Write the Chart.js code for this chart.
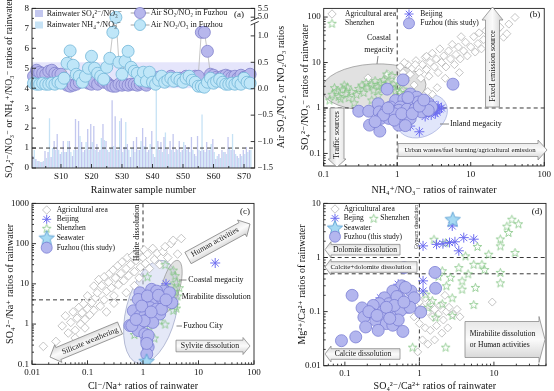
<!DOCTYPE html>
<html>
<head>
<meta charset="utf-8">
<script src="https://cdn.jsdelivr.net/npm/chart.js@4.4.1/dist/chart.umd.min.js"></script>
<style>
  html, body { margin: 0; padding: 0; background: #fff; }
  body { position: relative; width: 554px; height: 391px; overflow: hidden; }
  canvas { position: absolute; }
</style>
</head>
<body>
<canvas id="ca" width="290" height="195" style="left:0;top:0"></canvas>
<canvas id="cb" width="277" height="195" style="left:277px;top:0"></canvas>
<canvas id="cc" width="277" height="196" style="left:0;top:195px"></canvas>
<canvas id="cd" width="277" height="196" style="left:277px;top:195px"></canvas>
<script>
// ---- (a) rainwater ratios per sample + air ratios ----
const sampleIds = [1,2,3,4,5,6,7,8,9,10,11,12,13,14,15,16,17,18,19,20,21,22,23,24,25,26,27,28,29,30,
  31,32,33,34,35,36,37,38,39,40,41,42,43,44,45,46,47,48,49,50,51,52,53,54,55,56,57,58,59,60,
  61,62,63,64,65,66,67,68,69,70,71,72];
const so4no3 = [0.6,0.45,0.35,0.3,0.85,0.8,0.55,1.35,1.7,0.7, 1.35,0.8,1.35,0.6,2.45,2.35,1.3,0.9,1.95,2.2,
  2.1,1.2,0.9,2.2,1.35,0.8,3.4,2.6,0.9,2.5, 1.05,1.2,0.55,1.35,1.55,0.9,2.0,1.55,0.9,1.85,
  0.55,1.35,1.3,1.55,0.95,1.35,1.7,0.95,1.35,0.9, 1.15,1.05,1.55,0.7,1.6,0.85,0.9,1.3,0.9,1.45,
  0.45,0.7,0.9,0.8,1.55,0.9,0.9,0.6,0.7,0.9, 1.05,0.9];
const nh4no3 = [0.9,0.35,0.3,0.35,0.5,2.5,1.0,0.9,0.9,0.8, 0.8,1.35,0.8,0.9,0.9,1.6,0.8,1.3,0.9,1.3,
  0.9,0.8,1.5,1.4,0.9,1.0,1.1,0.9,2.35,0.8, 2.3,0.9,1.0,0.8,0.9,1.35,1.1,0.8,1.2,0.7,
  4.1,0.9,0.8,1.78,0.7,0.9,0.8,0.9,0.8,1.3, 0.9,0.8,0.9,0.6,0.9,2.68,0.8,0.9,1.2,0.8,
  0.6,0.5,0.8,0.7,1.0,1.7,0.7,0.5,0.6,0.7, 0.8,0.9];
// air ratios, read against the left axis
const airSo2No2 = [4.6,4.9,4.8,4.75,4.7,4.85,4.9,4.75,4.7,4.7, 4.5,4.15,4.1,4.15,4.2,4.3,4.55,4.4,4.25,4.2,
  4.3,4.2,4.4,4.3,4.3,4.15,4.1,4.1,4.2,4.15, 4.2,4.15,4.2,4.2,4.15,4.2,4.25,4.15,4.3,4.4,
  4.5,4.55,4.5,4.45,4.5,4.6,4.45,4.4,4.5,4.45, 4.6,4.55,4.5,4.6,4.6,6.8,6.8,5.85,4.7,4.65,
  4.55,4.5,4.6,4.65,4.6,4.55,4.6,4.5,4.65,4.55, 4.6,4.7];
const airNo2O3 = [4.25,4.2,4.2,4.25,4.2,4.2,4.25,4.2,4.3,4.25, 4.5,5.25,5.87,5.15,4.7,4.6,4.3,4.6,5.0,5.6,
  5.0,4.75,4.6,4.45,5.05,5.5,6.8,7.55,5.3,4.7, 5.35,5.85,5.05,4.85,4.75,4.4,4.8,4.35,4.8,4.3,
  4.2,4.4,4.6,4.3,4.4,4.5,4.35,4.5,4.4,4.3, 4.5,4.6,4.4,4.3,4.1,4.1,4.05,4.3,4.5,4.25,
  4.35,4.45,4.3,4.2,4.2,4.25,4.2,4.3,4.2,4.5, 4.3,4.25];
const aXTicks = [5,10,15,20,25,30,35,40,45,50,55,60,65,70];
const aYTicks = [0,0.5,1,1.5,2,2.5,3,3.5,4,4.5,5,5.5,6,6.5,7,7.5,8];
const aRightTicks = [-1.5,-1,-0.5,0,0.5,1.0,1.354,1.52];
const aRightLabels = ['−1.5','−1.0','−0.5','0.0','0.5','1.0','5.0','5.5'];

// ---- (b) SO4/NO3 vs NH4/NO3 ----
const bAgri = [[0.4,4.6],[0.98,4.0],[0.75,5.5],[1.1,8],[1.2,6],[1.3,4],[1.4,9],[1.5,5.5],[1.6,7.5],[1.7,3.2],
  [1.8,11],[2.0,6],[2.1,4.5],[2.2,9],[2.4,13],[2.5,7],[2.7,5],[2.8,10],[3.0,16],[3.2,8],[3.4,12],[3.6,6],
  [3.8,20],[4.0,10],[4.3,14],[4.6,8],[5.0,18],[5.3,12],[5.6,25],[6.0,9],[6.3,15],[6.8,22],[7.2,12],[7.4,37],
  [8.0,18],[8.5,28],[9.0,14],[10,22],[11,37],[11.5,17],[12.5,26],[13,45],[14,20],[15,32],[16,50],[18,25],
  [19,31],[20,42],[23,52],[25,60],[28,36],[31,43],[33,70],[40,98],[1.25,10],[1.76,9],[2.5,13.7],
  [2.2,1.5],[3.0,2.0],[3.5,2.8],[2.6,2.3],[4.5,4.5],[7,6],[1.1,2.4]];
const bShenzhen = [[0.13,2.0],[0.15,2.4],[0.16,1.8],[0.18,2.6],[0.2,2.1],[0.21,2.9],[0.22,1.7],[0.24,2.3],
  [0.19,3.2],[0.14,2.8],[0.17,1.6],[0.28,2.0],[0.3,2.7],[0.33,3.2],[0.35,2.2],[0.38,3.6],[0.4,2.9],[0.45,3.3],
  [0.48,2.5],[0.5,4.0],[0.55,3.0],[0.6,3.5],[0.62,2.6],[0.65,4.2],[0.7,3.1],[0.75,3.7],[0.8,2.8],[0.85,5.2],
  [0.9,3.4],[0.95,2.4],[1.0,3.0],[1.1,2.2],[1.2,2.6],[1.3,1.9],[1.5,1.7],[1.7,2.1],[0.26,1.3],[0.55,1.9],
  [0.45,1.5],[0.72,5.6],[0.12,1.5]];
const bBeijing = [[2.8,0.85],[3.0,0.95],[3.2,1.05],[3.4,0.9],[3.6,1.1],[3.3,0.75],[3.8,0.95],[2.6,1.0],
  [3.1,1.2],[3.5,0.82],[2.9,0.7],[4.0,1.0],[2.4,0.65],[1.5,0.4],[2.0,0.3],[1.3,0.55]];
const bFuzhou = [[1.2,4.15],[5.73,3.34],[0.73,2.6],[1.51,2.03],[1.84,1.73],[0.55,1.24],[0.95,1.46],[1.23,1.54],
  [1.43,1.35],[1.67,1.24],[1.94,1.35],[2.67,1.24],[2.93,1.05],[0.81,1.05],[1.1,1.05],[0.3,0.85],[0.41,0.85],
  [0.57,0.82],[0.7,0.85],[0.85,0.85],[1.05,0.89],[1.36,0.94],[1.75,0.94],[2.15,0.82],[2.64,0.89],[0.6,0.59],
  [0.77,0.59],[0.99,0.59],[1.23,0.64],[1.5,0.59],[0.42,0.42],[1.05,0.42],[1.29,0.41],[0.58,0.31],[0.9,0.75],
  [0.91,0.54],[0.65,0.7],[1.15,0.75],[1.6,0.75],[2.0,1.1],[0.5,0.5],[1.4,1.7],[2.3,1.5],[0.75,1.0]];

// ---- (c) SO4/Na vs Cl/Na ----
const cAgri = [[0.016,0.28],[0.027,0.37],[0.035,0.9],[0.04,1.6],[0.045,0.6],[0.05,1.1],[0.055,2.0],[0.06,0.7],
  [0.065,1.4],[0.07,2.6],[0.075,1.0],[0.08,1.9],[0.085,3.2],[0.09,1.3],[0.1,2.4],[0.1,5],[0.11,1.7],[0.12,3.4],
  [0.13,8.8],[0.13,2.2],[0.14,4.5],[0.15,6],[0.16,12.8],[0.17,2.8],[0.18,9],[0.2,4],[0.2,15],[0.22,6.5],
  [0.24,11],[0.25,18],[0.27,8],[0.29,22],[0.3,5],[0.32,14],[0.35,28],[0.36,9.5],[0.4,18],[0.42,35],[0.45,12],
  [0.5,24],[0.52,45],[0.55,16],[0.6,30],[0.65,50],[0.7,20],[0.75,38],[0.8,60],[0.85,14],[0.9,26],[1.0,45],
  [1.05,70],[1.1,32],[1.2,55],[1.3,24],[1.5,76],[1.6,40],[1.8,57],[2.0,30],[2.3,63],[2.5,84],[2.8,45],
  [3.2,100],[3.5,121],[4.2,55],[4.9,134],[0.06,0.45],[0.09,0.8],[0.22,2.0],[0.5,6],[0.7,9],[0.3,3.3]];
const cBeijing = [[20,33],[2.6,10]];
const cShenzhen = [[1.2,15],[2.5,30],[3.5,22],[3.8,16],[4.0,11],[3.2,9],[3.6,6.5],[4.2,5],[3.8,3],[4.0,2.5],
  [3.5,2.2],[2.5,1.0],[2.0,1.2],[1.3,0.9],[0.7,0.55],[1.6,0.45],[4.5,8],[1.1,0.18],[2.2,2.8]];
const cSeawater = [[1.16,0.12]];
const cFuzhou = [[0.88,6.0],[1.43,7.3],[2.33,6.6],[1.01,3.77],[1.65,3.77],[2.15,4.5],[1.33,2.57],[1.76,2.35],
  [3.3,3.4],[0.67,2.14],[0.88,1.61],[1.08,1.61],[1.33,1.47],[2.0,1.78],[0.58,0.92],[0.88,1.01],[1.24,1.22],
  [0.82,0.69],[1.08,0.57],[1.17,0.39],[1.24,0.27],[1.17,0.18],[1.76,6.6],[3.0,6.0],[0.82,4.1],[2.15,2.35],
  [0.63,0.92],[1.24,0.52],[1.17,0.33],[1.2,5.0],[1.9,5.2],[0.95,2.8],[1.5,1.1],[1.05,1.2],[2.6,4.0],
  [0.75,1.3],[1.4,2.0]];

// ---- (d) Mg/Ca vs SO4/Ca ----
const dAgri = [[0.9,0.22],[1.0,0.15],[1.1,0.12],[1.2,0.18],[1.3,0.1],[1.4,0.14],[1.5,0.08],[1.6,0.11],[1.8,0.09],
  [1.9,0.13],[2.1,0.07],[2.3,0.1],[2.5,0.12],[2.8,0.09],[3.2,0.11],[1.0,0.06],[1.2,0.05],[1.4,0.045],[1.7,0.055],
  [2.0,0.04],[2.4,0.05],[1.1,0.03],[1.3,0.025],[0.95,0.018],[1.6,0.03],[0.85,0.08],[0.8,0.12],[9.5,0.15],
  [3.5,0.08],[2.2,0.2]];
const dBeijing = [[1.12,1.64],[2.07,1.8],[2.54,1.89],[2.76,3.83],[3.38,1.33],[3.94,2.33],[5.36,2.18],[1.7,1.75],
  [3.0,1.95],[1.12,0.37],[1.12,0.24],[0.52,0.32],[0.3,0.18]];
const dShenzhen = [[17.4,5.1],[21.3,4.2],[14.9,3.8],[15.7,2.9],[12.2,2.2],[12.2,1.64],[19.2,1.24],[5.36,0.75],
  [6.9,0.75],[4.16,1.07],[3.38,0.65],[12.2,0.53],[12.2,0.34],[1.57,2.18],[2.25,1.89],[2.03,0.57],[2.62,0.43],
  [3.74,0.37],[1.22,0.21],[1.49,0.16],[2.03,0.14],[2.76,0.18],[5.36,0.135],[1.65,0.079],[2.76,0.085],
  [0.81,0.022],[2.25,0.022],[3.74,0.26],[5.65,0.28],[8.5,1.15],[6.0,1.6],[7.5,0.6],[2.3,0.3],[1.8,0.45],
  [1.3,0.12],[4.5,0.5]];
const dSeawater = [[2.8,5.1]];
const dFuzhou = [[0.625,0.65],[1.62,0.53],[1.65,0.27],[0.125,0.2],[0.58,0.3],[0.77,0.24],[0.85,0.18],[0.44,0.24],
  [0.34,0.18],[0.54,0.18],[0.69,0.12],[0.39,0.14],[0.29,0.14],[0.24,0.13],[0.17,0.117],[0.23,0.091],[0.32,0.098],
  [0.42,0.098],[0.48,0.079],[0.56,0.105],[1.04,0.098],[0.18,0.079],[0.26,0.069],[0.36,0.06],[0.44,0.056],
  [0.28,0.045],[0.19,0.052],[0.14,0.034],[0.09,0.029],[0.6,0.043],[0.5,0.19],[0.65,0.28],[0.46,0.13],
  [0.36,0.12],[0.21,0.1],[0.27,0.085],[0.75,0.12],[0.52,0.07],[0.62,0.15],[0.4,0.075]];

// ---- style ----
const SERIF = '"Liberation Serif", "DejaVu Serif", serif';
Chart.defaults.font.family = SERIF;
Chart.defaults.color = '#111';
const FZ_FILL = '#b3b6ee', FZ_EDGE = '#7b7fd4';
const AGRI_C = '#b5b5b5', BJ_C = '#6d6df0';

function starPath(g, cx, cy, R, r) {
  g.beginPath();
  for (let i = 0; i < 10; i++) {
    const a = -Math.PI / 2 + i * Math.PI / 5, rr = i % 2 ? r : R;
    g.lineTo(cx + rr * Math.cos(a), cy + rr * Math.sin(a));
  }
  g.closePath();
}
function starImg(R, r, fill, stroke, lw) {
  const s = Math.ceil(2 * R + 2 * lw + 2);
  const cv = document.createElement('canvas');
  cv.width = s; cv.height = s;
  const g = cv.getContext('2d');
  starPath(g, s / 2, s / 2 + R * 0.1, R, r);
  if (fill) { g.fillStyle = fill; g.fill(); }
  g.strokeStyle = stroke; g.lineWidth = lw; g.stroke();
  return cv;
}
const szImg = starImg(4.5, 1.9, null, '#84c584', 0.8);
const seaImg = starImg(8, 3.6, '#a6daf3', '#5b9fd2', 0.9);

const pts = arr => arr.map(([x, y]) => ({ x, y }));
const fmt = v => String(+v.toPrecision(1));

function logTicks(min, max) {
  const t = [];
  for (let e = Math.floor(Math.log10(min)); e <= Math.ceil(Math.log10(max)); e++) {
    for (let m = 1; m < 10; m++) {
      const v = +(m * Math.pow(10, e)).toPrecision(2);
      if (v >= min * 0.999 && v <= max * 1.001) t.push({ value: v, major: m === 1 });
    }
  }
  return t;
}
function logAxis(pos, min, max, size, title, tpad) {
  const left = pos === 'left';
  return {
    type: 'logarithmic', position: pos, min, max,
    grid: { display: false, drawTicks: false }, border: { display: false },
    afterBuildTicks: s => { s.ticks = logTicks(min, max); },
    afterFit: s => { if (left) s.width = size; else s.height = size; },
    ticks: { autoSkip: false, maxRotation: 0, padding: 3, font: { size: 9 },
      callback: (v, i, t) => (t[i] && t[i].major ? fmt(v) : '') },
    title: { display: true, text: title, font: { size: 10, lineHeight: left ? 1.2 : 1 },
      padding: left ? { top: tpad, bottom: 0 } : { top: 0, bottom: 0 } }
  };
}

// ---- drawing helpers ----
function txt(ctx, s, x, y, o = {}) {
  ctx.save();
  ctx.font = (o.size || 8) + 'px ' + SERIF;
  ctx.fillStyle = o.color || '#111';
  ctx.textAlign = o.align || 'left';
  ctx.textBaseline = 'middle';
  ctx.translate(x, y);
  if (o.rot) ctx.rotate(o.rot * Math.PI / 180);
  ctx.fillText(s, 0, 0);
  ctx.restore();
}
function line(ctx, x1, y1, x2, y2, color, dashed) {
  ctx.save();
  ctx.strokeStyle = color || '#222';
  ctx.lineWidth = 0.9;
  if (dashed) ctx.setLineDash([4, 3]);
  ctx.beginPath(); ctx.moveTo(x1, y1); ctx.lineTo(x2, y2); ctx.stroke();
  ctx.restore();
}
function ellipse(ctx, cx, cy, rx, ry, rot, fill, stroke) {
  ctx.save();
  ctx.beginPath();
  ctx.ellipse(cx, cy, rx, ry, rot * Math.PI / 180, 0, Math.PI * 2);
  ctx.fillStyle = fill; ctx.fill();
  ctx.strokeStyle = stroke; ctx.lineWidth = 0.8; ctx.stroke();
  ctx.restore();
}
// block arrow: tail (x1,y1) -> tip (x2,y2)
function arrow(ctx, x1, y1, x2, y2, hw, hh, hl) {
  const ang = Math.atan2(y2 - y1, x2 - x1), len = Math.hypot(x2 - x1, y2 - y1);
  ctx.save();
  ctx.translate(x1, y1); ctx.rotate(ang);
  ctx.beginPath();
  ctx.moveTo(0, -hw); ctx.lineTo(len - hl, -hw); ctx.lineTo(len - hl, -hh); ctx.lineTo(len, 0);
  ctx.lineTo(len - hl, hh); ctx.lineTo(len - hl, hw); ctx.lineTo(0, hw); ctx.closePath();
  const g = ctx.createLinearGradient(0, -hh, 0, hh);
  g.addColorStop(0, '#e2e2e2'); g.addColorStop(0.5, '#fbfbfb'); g.addColorStop(1, '#cfcfcf');
  ctx.fillStyle = g; ctx.fill();
  ctx.strokeStyle = '#8c8c8c'; ctx.lineWidth = 0.8; ctx.stroke();
  ctx.restore();
}
function mark(ctx, kind, x, y) {
  ctx.save();
  if (kind === 'diamond') {
    ctx.beginPath();
    ctx.moveTo(x, y - 4.2); ctx.lineTo(x + 4.2, y); ctx.lineTo(x, y + 4.2); ctx.lineTo(x - 4.2, y); ctx.closePath();
    ctx.fillStyle = '#fff'; ctx.fill(); ctx.strokeStyle = AGRI_C; ctx.lineWidth = 0.8; ctx.stroke();
  } else if (kind === 'aster') {
    ctx.strokeStyle = BJ_C; ctx.lineWidth = 1;
    ctx.beginPath();
    for (let i = 0; i < 4; i++) {
      const a = i * Math.PI / 4;
      ctx.moveTo(x - 4.5 * Math.cos(a), y - 4.5 * Math.sin(a));
      ctx.lineTo(x + 4.5 * Math.cos(a), y + 4.5 * Math.sin(a));
    }
    ctx.stroke();
  } else if (kind === 'sz') {
    ctx.drawImage(szImg, x - szImg.width / 2, y - szImg.height / 2);
  } else if (kind === 'sea') {
    ctx.drawImage(seaImg, x - seaImg.width / 2, y - seaImg.height / 2);
  } else if (kind === 'fz') {
    ctx.beginPath(); ctx.arc(x, y, 5.5, 0, Math.PI * 2);
    ctx.fillStyle = FZ_FILL; ctx.fill(); ctx.strokeStyle = FZ_EDGE; ctx.lineWidth = 0.8; ctx.stroke();
  }
  ctx.restore();
}
function clipArea(ctx, a) {
  ctx.beginPath(); ctx.rect(a.left, a.top, a.right - a.left, a.bottom - a.top); ctx.clip();
}

// frame box, inward tick marks, plus per-panel decorations
function deco(under, over) {
  return {
    id: 'deco',
    beforeDatasetsDraw(chart) {
      const ctx = chart.ctx;
      ctx.save();
      if (under) under(ctx, chart, chart.chartArea);
      ctx.restore();
    },
    afterDatasetsDraw(chart) {
      const ctx = chart.ctx, a = chart.chartArea;
      ctx.save();
      ctx.strokeStyle = '#222'; ctx.lineWidth = 0.9;
      ctx.strokeRect(a.left, a.top, a.right - a.left, a.bottom - a.top);
      Object.values(chart.scales).forEach(s => {
        s.ticks.forEach(t => {
          const p = s.getPixelForValue(t.value);
          const L = (t.label !== '' && t.label != null) ? 4 : 2;
          ctx.beginPath();
          if (s.position === 'left') {
            if (p < a.top - 0.5 || p > a.bottom + 0.5) return;
            ctx.moveTo(a.left, p); ctx.lineTo(a.left + L, p);
          } else if (s.position === 'right') {
            if (p < a.top - 0.5 || p > a.bottom + 0.5) return;
            ctx.moveTo(a.right, p); ctx.lineTo(a.right - L, p);
          } else {
            if (p < a.left - 0.5 || p > a.right + 0.5) return;
            ctx.moveTo(p, a.bottom); ctx.lineTo(p, a.bottom - L);
          }
          ctx.stroke();
        });
      });
      ctx.restore();
      ctx.save();
      if (over) over(ctx, chart, a);
      ctx.restore();
    }
  };
}
const X = (c, v) => c.scales.x.getPixelForValue(v);
const Y = (c, v) => c.scales.y.getPixelForValue(v);
const base = (top, right) => ({
  responsive: false, animation: false, events: [],
  layout: { padding: { top, right, left: 0, bottom: 0 } },
  plugins: { legend: { display: false }, tooltip: { enabled: false } }
});

// ================= (a) =================
new Chart(document.getElementById('ca'), {
  type: 'bar',
  data: {
    datasets: [
      { type: 'line', data: sampleIds.map((s, i) => ({ x: s, y: airNo2O3[i] })), order: -1,
        borderColor: '#b8b8b8', borderWidth: 0.8, tension: 0, fill: false, clip: 8,
        pointRadius: 6, pointBackgroundColor: '#bfe6f8', pointBorderColor: '#72b6d8', pointBorderWidth: 0.8 },
      { type: 'line', data: sampleIds.map((s, i) => ({ x: s, y: airSo2No2[i] })), order: 0,
        borderColor: '#b8b8b8', borderWidth: 0.8, tension: 0, fill: false, clip: 8,
        pointRadius: 6, pointBackgroundColor: '#b7b7ec', pointBorderColor: '#8282cc', pointBorderWidth: 0.8 },
      { type: 'bar', data: sampleIds.map((s, i) => ({ x: s, y: so4no3[i] })), order: 2,
        backgroundColor: '#c3c7ef', barPercentage: 0.9, categoryPercentage: 0.95 },
      { type: 'bar', data: sampleIds.map((s, i) => ({ x: s, y: nh4no3[i] })), order: 2,
        backgroundColor: '#c6e2f5', barPercentage: 0.9, categoryPercentage: 0.95 }
    ]
  },
  options: Object.assign(base(5, 0), {
    scales: {
      x: { type: 'linear', min: 0.5, max: 73.5, offset: false,
        grid: { display: false, drawTicks: false }, border: { display: false },
        afterBuildTicks: s => { s.ticks = aXTicks.map(v => ({ value: v })); },
        afterFit: s => { s.height = 27; },
        ticks: { autoSkip: false, maxRotation: 0, padding: 3, font: { size: 9 },
          callback: v => (v % 10 === 0 ? 'S' + v : '') },
        title: { display: true, text: 'Rainwater sample number', font: { size: 10, lineHeight: 1 },
          padding: { top: 0, bottom: 0 } } },
      y: { type: 'linear', position: 'left', min: 0, max: 8,
        grid: { display: false, drawTicks: false }, border: { display: false },
        afterBuildTicks: s => { s.ticks = aYTicks.map(v => ({ value: v })); },
        afterFit: s => { s.width = 32; },
        ticks: { autoSkip: false, padding: 3, font: { size: 9 },
          callback: v => (Number.isInteger(v) ? String(v) : '') },
        title: { display: true, text: 'SO₄²⁻/NO₃⁻ or NH₄⁺/NO₃⁻ ratios of rainwater',
          font: { size: 9.5 }, padding: { top: 4, bottom: 0 } } },
      y1: { type: 'linear', position: 'right', min: -1.5, max: 1.52,
        grid: { display: false, drawTicks: false }, border: { display: false },
        afterBuildTicks: s => { s.ticks = aRightTicks.map(v => ({ value: v })); },
        afterFit: s => { s.width = 35.3; },
        ticks: { autoSkip: false, padding: 3, font: { size: 8.5 },
          callback: (v, i) => aRightLabels[i] } }
    }
  }),
  plugins: [deco(
    (ctx, c, a) => {
      const y1 = Y(c, 5.3), y0 = Y(c, 4.0);
      ctx.fillStyle = 'rgba(222,222,250,0.8)';
      ctx.fillRect(a.left, y1, a.right - a.left, y0 - y1);
    },
    (ctx, c, a) => {
      line(ctx, a.left, Y(c, 1), a.right, Y(c, 1), '#222', true);
      // legend
      ctx.fillStyle = '#c3c7ef'; ctx.fillRect(35, 10, 8, 7);
      ctx.fillStyle = '#c6e2f5'; ctx.fillRect(35, 21.5, 8, 7);
      txt(ctx, 'Rainwater SO₄²⁻/NO₃⁻', 46.7, 14, { size: 8 });
      txt(ctx, 'Rainwater NH₄⁺/NO₃⁻', 46.7, 25, { size: 8 });
      line(ctx, 130.7, 13, 149.5, 13, '#999');
      line(ctx, 130.7, 25, 149.5, 25, '#999');
      ctx.beginPath(); ctx.arc(140, 13, 5.5, 0, Math.PI * 2);
      ctx.fillStyle = '#b7b7ec'; ctx.fill(); ctx.strokeStyle = '#8282cc'; ctx.lineWidth = 0.8; ctx.stroke();
      ctx.beginPath(); ctx.arc(140, 25, 5.5, 0, Math.PI * 2);
      ctx.fillStyle = '#bfe6f8'; ctx.fill(); ctx.strokeStyle = '#72b6d8'; ctx.stroke();
      txt(ctx, 'Air SO₂/NO₂ in Fuzhou', 150.7, 13, { size: 8 });
      txt(ctx, 'Air NO₂/O₃ in Fuzhou', 150.7, 25, { size: 8 });
      txt(ctx, '(a)', 239, 15, { size: 9, align: 'center' });
      // axis break on the right axis
      ctx.fillStyle = '#fff'; ctx.fillRect(a.right - 1.5, 19.5, 3, 4);
      line(ctx, a.right - 4, 21, a.right + 4, 17.5, '#222');
      line(ctx, a.right - 4, 25, a.right + 4, 21.5, '#222');
      txt(ctx, 'Air SO₂/NO₂ or NO₂/O₃ ratios', 281, 87, { size: 10, rot: -90, align: 'center' });
    })]
});

// ================= (b) =================
new Chart(document.getElementById('cb'), {
  type: 'scatter',
  data: {
    datasets: [
      { data: pts(bFuzhou), order: 0, pointRadius: 6, backgroundColor: FZ_FILL, borderColor: FZ_EDGE, borderWidth: 0.8 },
      { data: pts(bBeijing), order: 1, pointStyle: 'star', pointRadius: 5, borderColor: BJ_C, borderWidth: 1 },
      { data: pts(bShenzhen), order: 2, pointStyle: szImg, pointRadius: 4 },
      { data: pts(bAgri), order: 3, pointStyle: 'rectRot', pointRadius: 4, backgroundColor: '#fff', borderColor: AGRI_C, borderWidth: 0.8 }
    ]
  },
  options: Object.assign(base(5, 6.3), {
    scales: {
      x: logAxis('bottom', 0.1, 100, 29, 'NH₄⁺/NO₃⁻ ratios of rainwater'),
      y: logAxis('left', 0.053, 155, 46.7, 'SO₄²⁻/NO₃⁻ ratios of rainwater', 22)
    }
  }),
  plugins: [deco(
    (ctx, c, a) => {
      ctx.save(); clipArea(ctx, a);
      ellipse(ctx, 97, 87, 52, 23, -3, 'rgba(195,195,195,0.5)', '#9a9a9a');
      ellipse(ctx, 145, 116, 27, 20, -30, 'rgba(205,214,248,0.6)', '#a9b3e0');
      ctx.restore();
      line(ctx, X(c, 1), a.top, X(c, 1), a.bottom, '#222', true);
      line(ctx, a.left, Y(c, 1), a.right, Y(c, 1), '#222', true);
    },
    (ctx, c, a) => {
      arrow(ctx, 215.5, 107, 215.5, 7, 7, 10.5, 13);
      txt(ctx, 'Fixed emission source', 215.5, 66, { size: 8, rot: -90, align: 'center' });
      arrow(ctx, 60, 108, 60, 167, 7, 9, 8);
      txt(ctx, 'Traffic sources', 60, 135, { size: 8, rot: -90, align: 'center' });
      arrow(ctx, 121, 150, 270, 150, 6.5, 10, 9);
      txt(ctx, 'Urban wastes/fuel burning/agricultural emission', 193, 150, { size: 6.8, align: 'center' });
      txt(ctx, 'Coastal', 102, 38, { size: 8, align: 'center' });
      txt(ctx, 'megacity', 102, 50, { size: 8, align: 'center' });
      line(ctx, 101, 56, 100, 64, '#777');
      txt(ctx, 'Inland megacity', 173, 124, { size: 8 });
      line(ctx, 163, 124, 172, 124, '#777');
      txt(ctx, '(b)', 258, 15, { size: 9, align: 'center' });
      mark(ctx, 'diamond', 55, 14); txt(ctx, 'Agricultural area', 68, 14, { size: 7.5 });
      mark(ctx, 'sz', 55, 23.3); txt(ctx, 'Shenzhen', 68, 23.3, { size: 7.5 });
      mark(ctx, 'aster', 132, 14); txt(ctx, 'Beijing', 143.3, 14, { size: 7.5 });
      mark(ctx, 'fz', 132, 23.3); txt(ctx, 'Fuzhou (this study)', 143.3, 23.3, { size: 7.5 });
    })]
});

// ================= (c) =================
new Chart(document.getElementById('cc'), {
  type: 'scatter',
  data: {
    datasets: [
      { data: pts(cSeawater), order: -1, pointStyle: seaImg, pointRadius: 7 },
      { data: pts(cFuzhou), order: 0, pointRadius: 6, backgroundColor: FZ_FILL, borderColor: FZ_EDGE, borderWidth: 0.8 },
      { data: pts(cBeijing), order: 1, pointStyle: 'star', pointRadius: 5, borderColor: BJ_C, borderWidth: 1 },
      { data: pts(cShenzhen), order: 2, pointStyle: szImg, pointRadius: 4 },
      { data: pts(cAgri), order: 3, pointStyle: 'rectRot', pointRadius: 4.3, backgroundColor: '#fff', borderColor: AGRI_C, borderWidth: 0.8 }
    ]
  },
  options: Object.assign(base(6, 23), {
    scales: {
      x: logAxis('bottom', 0.01, 100, 26.7, 'Cl⁻/Na⁺ ratios of rainwater'),
      y: logAxis('left', 0.1, 1000, 32, 'SO₄²⁻/Na⁺ ratios of rainwater', 4)
    }
  }),
  plugins: [deco(
    (ctx, c, a) => {
      line(ctx, X(c, 1), a.top, X(c, 1), Y(c, 4), '#222', true);
      line(ctx, a.left, Y(c, 4), X(c, 1), Y(c, 4), '#222', true);
      ctx.save(); clipArea(ctx, a);
      ellipse(ctx, 151, 117, 25, 53, 14, 'rgba(205,214,240,0.55)', '#a3abc9');
      ellipse(ctx, 171, 91.5, 9, 27, 15, 'rgba(200,200,200,0.5)', '#9a9a9a');
      ctx.restore();
    },
    (ctx, c, a) => {
      txt(ctx, 'Halite dissolution', 137, 38, { size: 8, rot: -90, align: 'center' });
      arrow(ctx, 188, 63, 250, 29, 6.5, 9.5, 9);
      txt(ctx, 'Human activities', 215, 47, { size: 7.8, rot: -29, align: 'center' });
      arrow(ctx, 120, 133, 50, 162, 6.5, 9.5, 9);
      txt(ctx, 'Silicate weathering', 90, 146, { size: 7.8, rot: -22.5, align: 'center' });
      arrow(ctx, 176, 151, 250, 151, 5.8, 8.5, 7);
      txt(ctx, 'Sylvite dissolution', 210, 151, { size: 7.8, align: 'center' });
      line(ctx, 179, 85, 186.5, 85, '#777');
      txt(ctx, 'Coastal megacity', 188.3, 85, { size: 8 });
      txt(ctx, 'Mirabilite dissolution', 181.7, 102, { size: 8 });
      line(ctx, 176.5, 131, 182, 131, '#777');
      txt(ctx, 'Fuzhou City', 183.3, 131, { size: 8 });
      txt(ctx, '(c)', 245, 17, { size: 9, align: 'center' });
      const rows = [[15, 'diamond', 'Agricultural area'], [24.3, 'aster', 'Beijing'], [33.3, 'sz', 'Shenzhen'],
        [42.7, 'sea', 'Seawater'], [52.7, 'fz', 'Fuzhou (this study)']];
      rows.forEach(([y, k, s]) => { mark(ctx, k, 46.7, y); txt(ctx, s, 56.7, y, { size: 7.5 }); });
    })]
});

// ================= (d) =================
new Chart(document.getElementById('cd'), {
  type: 'scatter',
  data: {
    datasets: [
      { data: pts(dSeawater), order: -1, pointStyle: seaImg, pointRadius: 7 },
      { data: pts(dFuzhou), order: 0, pointRadius: 6, backgroundColor: FZ_FILL, borderColor: FZ_EDGE, borderWidth: 0.8 },
      { data: pts(dBeijing), order: 1, pointStyle: 'star', pointRadius: 5, borderColor: BJ_C, borderWidth: 1 },
      { data: pts(dShenzhen), order: 2, pointStyle: szImg, pointRadius: 4 },
      { data: pts(dAgri), order: 3, pointStyle: 'rectRot', pointRadius: 4, backgroundColor: '#fff', borderColor: AGRI_C, borderWidth: 0.8 }
    ]
  },
  options: Object.assign(base(7.3, 6.3), {
    scales: {
      x: logAxis('bottom', 0.052, 50, 25.3, 'SO₄²⁻/Ca²⁺ ratios of rainwater'),
      y: logAxis('left', 0.01, 10, 46.7, 'Mg²⁺/Ca²⁺ ratios of rainwater', 19)
    }
  }),
  plugins: [deco(
    (ctx, c, a) => {
      line(ctx, X(c, 1), a.top, X(c, 1), a.bottom, '#222', true);
      line(ctx, a.left, Y(c, 1), a.right, Y(c, 1), '#222', true);
      line(ctx, a.left, Y(c, 0.5), a.right, Y(c, 0.5), '#222', true);
    },
    (ctx, c, a) => {
      txt(ctx, 'Gypsum dissolution', 139.3, 32, { size: 5.5, rot: -90, align: 'center' });
      arrow(ctx, 123, 54.7, 48, 54.7, 5.3, 8, 6);
      txt(ctx, 'Dolomite dissolution', 88, 54.7, { size: 7.6, align: 'center' });
      arrow(ctx, 140, 72, 48, 72, 5.3, 8, 6);
      txt(ctx, 'Calcite+dolomite dissolution', 94, 72, { size: 7, align: 'center' });
      arrow(ctx, 123, 159, 48, 159, 5.3, 8, 6);
      txt(ctx, 'Calcite dissolution', 86, 159, { size: 7.6, align: 'center' });
      arrow(ctx, 188, 144.5, 268, 144.5, 18, 23, 6);
      txt(ctx, 'Mirabilite dissolution', 192.7, 139.3, { size: 7.6 });
      txt(ctx, 'or Human activities', 192.7, 150.3, { size: 7.6 });
      txt(ctx, '(d)', 260, 16.7, { size: 9, align: 'center' });
      mark(ctx, 'diamond', 58, 14); txt(ctx, 'Agricultural area', 66.7, 14, { size: 7.5 });
      mark(ctx, 'aster', 58, 23.3); txt(ctx, 'Bejing', 66.7, 23.3, { size: 7.5 });
      mark(ctx, 'sz', 96.7, 23.3); txt(ctx, 'Shenzhen', 103.3, 23.3, { size: 7.5 });
      mark(ctx, 'sea', 58, 32.7); txt(ctx, 'Seawater', 66.7, 32.7, { size: 7.5 });
      mark(ctx, 'fz', 58, 41.7); txt(ctx, 'Fuzhou (this study)', 66.7, 41.7, { size: 7.5 });
    })]
});
</script>
</body>
</html>
